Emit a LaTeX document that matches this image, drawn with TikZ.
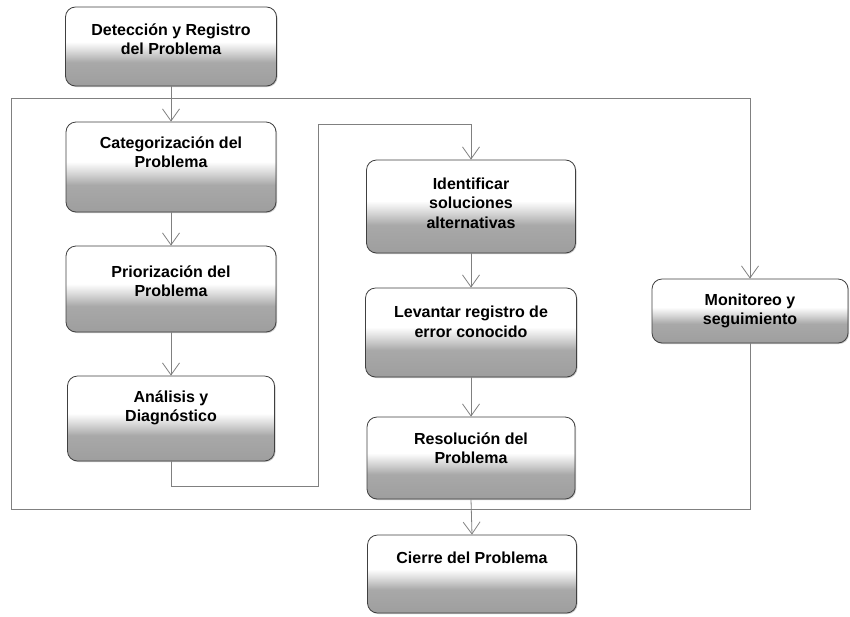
\documentclass[tikz,border=0pt]{standalone}
\usepackage{fontspec}
\setmainfont{Liberation Sans}
\usetikzlibrary{arrows.meta,shadows}
\pgfdeclareverticalshading{boxshade}{100bp}{color(0bp)=(black!38); color(25bp)=(black!38); color(40bp)=(black!34); color(47bp)=(black!15); color(53bp)=(white); color(100bp)=(white)}
\tikzset{
  boxnode/.style={draw=black!75, line width=0.8pt, rounded corners=10pt, shading=boxshade, inner sep=0pt,
    drop shadow={shadow xshift=1pt, shadow yshift=-1pt, fill=black!30, opacity=0.7}},
  boxtext/.style={align=center, font=\fontsize{16}{19.5}\selectfont\bfseries, inner sep=0pt, text=black},
  conn/.style={draw=black!50, line width=0.8pt},
  arr/.style={conn, -{Straight Barb[length=12pt,width=17pt,line width=0.8pt]}}
}
\begin{document}
\begin{tikzpicture}[x=1pt,y=-1pt]
\useasboundingbox (0,0) rectangle (850,616);
% boxes
\node[boxnode, minimum width=211pt, minimum height=79pt] (det) at (171,46.5) {};
\node[boxnode, minimum width=210pt, minimum height=90pt] (cat) at (171,167) {};
\node[boxnode, minimum width=210pt, minimum height=86pt] (pri) at (171,289) {};
\node[boxnode, minimum width=207pt, minimum height=85pt] (ana) at (171,418.5) {};
\node[boxnode, minimum width=209pt, minimum height=93pt] (ide) at (471,206.5) {};
\node[boxnode, minimum width=211pt, minimum height=89pt] (lev) at (471,332.5) {};
\node[boxnode, minimum width=208pt, minimum height=82pt] (res) at (471,458) {};
\node[boxnode, minimum width=209pt, minimum height=78pt] (cie) at (472,574) {};
\node[boxnode, minimum width=196pt, minimum height=64pt] (mon) at (750,311) {};
% texts
\node[boxtext] (detT) at (171,39) {Detección y Registro\\del Problema};
\node[boxtext] (catT) at (171,152) {Categorización del\\Problema};
\node[boxtext] (priT) at (171,281) {Priorización del\\Problema};
\node[boxtext] (anaT) at (171,408) {Análisis y\\Diagnóstico};
\node[boxtext] (ideT) at (471,203) {Identificar\\soluciones\\alternativas};
\node[boxtext] (levT) at (471,322) {Levantar registro de\\error conocido};
\node[boxtext] (resT) at (471,448) {Resolución del\\Problema};
\node[boxtext] (cieT) at (472,558) {Cierre del Problema};
\node[boxtext] (monT) at (750,311) {Monitoreo y\\seguimiento};
% junction coordinates
\coordinate (tl) at (11,98);
\coordinate (tr) at (750,98);
\coordinate (bl) at (11,509);
\coordinate (br) at (750,509);
\coordinate (a1) at (171,486);
\coordinate (a2) at (318,486);
\coordinate (a3) at (318,124);
\coordinate (a4) at (471,124);
% connectors
\draw[arr] (det.south) -- (cat.north);
\draw[conn] (bl) -- (tl) -- (tr);
\draw[arr] (tr) -- (mon.north);
\draw[conn] (mon.south) -- (br) -- (bl);
\draw[arr] (cat.south) -- (pri.north);
\draw[arr] (pri.south) -- (ana.north);
\draw[conn] (ana.south) -- (a1) -- (a2) -- (a3) -- (a4);
\draw[arr] (a4) -- (ide.north);
\draw[arr] (ide.south) -- (lev.north);
\draw[arr] (lev.south) -- (res.north);
\draw[arr] (res.south) -- (cie.north);
\end{tikzpicture}
\end{document}
